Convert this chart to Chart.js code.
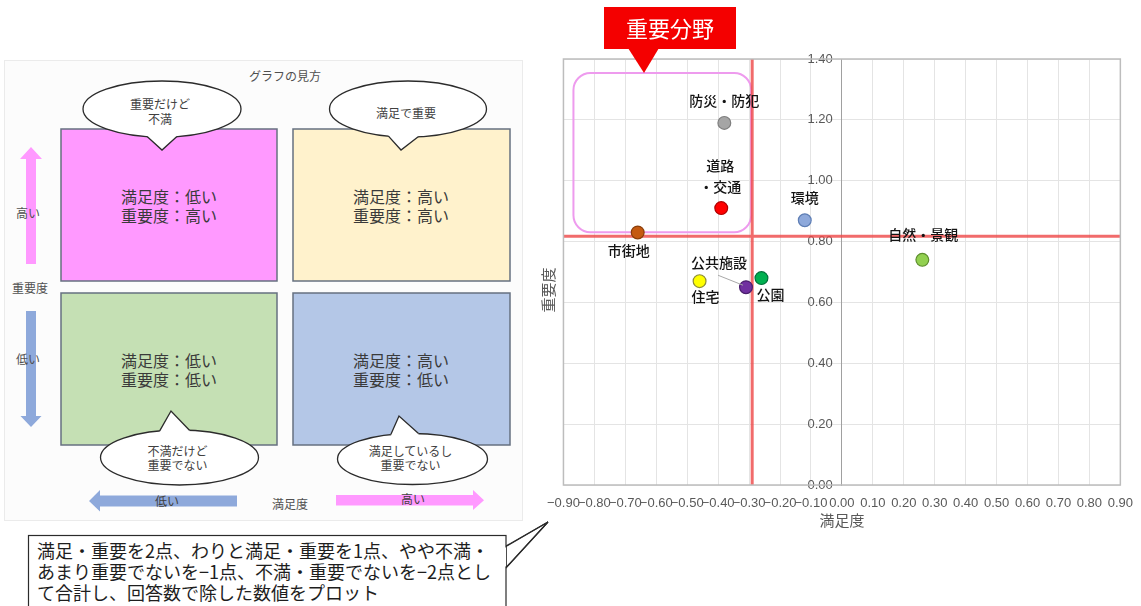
<!DOCTYPE html>
<html lang="ja">
<head>
<meta charset="utf-8">
<script src="https://cdn.jsdelivr.net/npm/chart.js@4.4.1/dist/chart.umd.min.js"></script>
<style>
  body { margin: 0; background: #fff; }
  #wrap { position: relative; width: 1141px; height: 606px; overflow: hidden; font-family: "Noto Sans CJK JP", sans-serif; }
  #guide, #note { position: absolute; left: 0; top: 0; }
  #chartBox { position: absolute; left: 536px; top: 0; width: 608px; height: 545px; }
</style>
</head>
<body>
<div id="wrap">
  <svg id="guide" width="1141" height="606"></svg>
  <div id="chartBox"><canvas id="matrix"></canvas></div>
  <svg id="note" width="1141" height="606"></svg>
</div>
<script>
// 分野と満足度・重要度
const areas = ['防災・防犯', '道路・交通', '環境', '市街地', '自然・景観', '公園', '住宅', '公共施設'];
const satisfaction = [-0.38, -0.39, -0.12, -0.66, 0.26, -0.26, -0.46, -0.31];
const importance = [1.19, 0.91, 0.87, 0.83, 0.74, 0.68, 0.67, 0.65];
const xTicks = [-0.9, -0.8, -0.7, -0.6, -0.5, -0.4, -0.3, -0.2, -0.1, 0, 0.1, 0.2, 0.3, 0.4, 0.5, 0.6, 0.7, 0.8, 0.9];
const yTicks = [0, 0.2, 0.4, 0.6, 0.8, 1.0, 1.2, 1.4];

// 平均（赤線）
const avgX = satisfaction.reduce((a, b) => a + b, 0) / satisfaction.length;
const avgY = importance.reduce((a, b) => a + b, 0) / importance.length;

const fillColors = ['#A5A5A5', '#FF0000', '#8EA9DB', '#C55A11', '#92D050', '#00B050', '#FFFF00', '#7030A0'];
const lineColors = ['#7F7F7F', '#B00000', '#5F7FB5', '#8B3E0A', '#5E8E2E', '#00703A', '#8C8C3A', '#4B1F6E'];

// ラベルの見た目（点からのずれ）
const labelStyle = {
  '防災・防犯': { lines: ['防災・防犯'], dx: 0, dy: -22 },
  '道路・交通': { lines: ['道路', '・交通'], dx: -1, dy: -42 },
  '環境': { lines: ['環境'], dx: 0, dy: -23 },
  '市街地': { lines: ['市街地'], dx: -9, dy: 18 },
  '自然・景観': { lines: ['自然・景観'], dx: 1, dy: -25 },
  '公園': { lines: ['公園'], dx: 9, dy: 17 },
  '住宅': { lines: ['住宅'], dx: 6, dy: 16 },
  '公共施設': { lines: ['公共施設'], dx: -27, dy: -25, leader: [-28, -12, -3, -2] },
};

const JP = '"Noto Sans CJK JP", sans-serif';
const NUM = '"Liberation Sans", Arial, sans-serif';
const fmt = v => (v < 0 ? '\u2212' : '') + Math.abs(v).toFixed(2);
const CX = 536; // キャンバス左端（ページ座標）

// ---------- 左側「グラフの見方」 ----------
const NS = 'http://www.w3.org/2000/svg';
function el(svg, tag, attrs, text) {
  const e = document.createElementNS(NS, tag);
  for (const k in attrs) e.setAttribute(k, attrs[k]);
  if (text !== undefined) e.textContent = text;
  svg.appendChild(e);
  return e;
}
function txt(svg, x, y, s, size, color, anchor) {
  return el(svg, 'text', { x, y, 'font-size': size, fill: color || '#404040', 'text-anchor': anchor || 'middle',
    'dominant-baseline': 'central', 'font-family': JP }, s);
}
function callout(svg, cx, cy, rx, ry, tx, ty, half, lines, ys) {
  const th = Math.atan2((ty - cy) / ry, (tx - cx) / rx);
  const d = half / rx;
  const p = a => [cx + rx * Math.cos(a), cy + ry * Math.sin(a)];
  const q = a => [cx + (rx - 5) * Math.cos(a), cy + (ry - 5) * Math.sin(a)];
  const b1 = p(th - d), b2 = p(th + d), i1 = q(th - d), i2 = q(th + d);
  el(svg, 'ellipse', { cx, cy, rx, ry, fill: '#fff', stroke: '#2b2b2b', 'stroke-width': 1.3 });
  el(svg, 'polygon', { points: [i1, b1, [tx, ty], b2, i2].map(a => a.join(',')).join(' '), fill: '#fff' });
  el(svg, 'polyline', { points: [b1, [tx, ty], b2].map(a => a.join(',')).join(' '), fill: 'none', stroke: '#2b2b2b', 'stroke-width': 1.3 });
  lines.forEach((s, i) => txt(svg, cx - 2, ys[i], s, 12));
}

const g = document.getElementById('guide');
el(g, 'rect', { x: 4.5, y: 60.5, width: 518, height: 460, fill: '#fcfcfc', stroke: '#ebebeb' });
txt(g, 285, 75, 'グラフの見方', 12, '#505050');

const boxStroke = { stroke: '#667080', 'stroke-width': 1.5 };
el(g, 'rect', Object.assign({ x: 61, y: 129, width: 216, height: 152, fill: '#FF99FF' }, boxStroke));
el(g, 'rect', Object.assign({ x: 293, y: 129, width: 217, height: 152, fill: '#FFF2CC' }, boxStroke));
el(g, 'rect', Object.assign({ x: 61, y: 293, width: 216, height: 152, fill: '#C5E0B4' }, boxStroke));
el(g, 'rect', Object.assign({ x: 293, y: 293, width: 217, height: 152, fill: '#B4C7E7' }, boxStroke));
[[169, 205, '満足度：低い', '重要度：高い'], [401, 205, '満足度：高い', '重要度：高い'],
 [169, 369, '満足度：低い', '重要度：低い'], [401, 369, '満足度：高い', '重要度：低い']].forEach(([x, y, a, b]) => {
  txt(g, x, y - 9.5, a, 16, '#3a3a3a');
  txt(g, x, y + 10, b, 16, '#3a3a3a');
});

callout(g, 162, 109, 79, 28, 162, 150, 15, ['重要だけど', '不満'], [103.5, 118]);
callout(g, 408, 109, 78.5, 28, 401, 150, 15, ['満足で重要'], [112]);
callout(g, 179.5, 457.5, 79, 27.5, 171, 411, 15, ['不満だけど', '重要でない'], [450, 464.5]);
callout(g, 412.5, 459, 75, 25.5, 399, 416, 14, ['満足しているし', '重要でない'], [450.5, 464.5]);

// 矢印
el(g, 'polygon', { points: '26,264 36,264 36,159 42,159 31,147 20,159 26,159', fill: '#FF99FF' });
el(g, 'polygon', { points: '26,311 36,311 36,416 41.5,416 31,427 20.5,416 26,416', fill: '#8EA9DB' });
el(g, 'polygon', { points: '237,495.5 237,506.5 100,506.5 100,511.5 89,501 100,490 100,495.5', fill: '#8EA9DB' });
el(g, 'polygon', { points: '336,495 336,505.5 473,505.5 473,510 484,500.2 473,490 473,495', fill: '#FF99FF' });
txt(g, 28, 212, '高い', 12, '#505050');
txt(g, 30, 287, '重要度', 12, '#505050');
txt(g, 28, 358, '低い', 12, '#505050');
txt(g, 167, 500, '低い', 12, '#404040');
txt(g, 290, 503, '満足度', 12, '#505050');
txt(g, 413, 498, '高い', 12, '#404040');

// 下の注記
const n = document.getElementById('note');
el(n, 'polygon', { points: '506,546 548,522 506,568', fill: '#fff', stroke: '#2b2b2b', 'stroke-width': 1.2 });
el(n, 'rect', { x: 28.5, y: 535.5, width: 477.5, height: 90, fill: '#fff', stroke: '#2b2b2b', 'stroke-width': 1.2 });
el(n, 'polygon', { points: '504,547.5 506,547.5 506,566.5 504,566.5', fill: '#fff' });
el(n, 'polyline', { points: '506,546.5 548,522 506,567.5', fill: 'none', stroke: '#2b2b2b', 'stroke-width': 1.2 });
['満足・重要を2点、わりと満足・重要を1点、やや不満・',
 'あまり重要でないを−1点、不満・重要でないを−2点とし',
 'て合計し、回答数で除した数値をプロット'].forEach((s, i) => {
  txt(n, 37, 550 + i * 21, s, 18, '#1e1e1e', 'start');
});

// ---------- 右側の散布図 ----------
const decor = {
  id: 'decor',
  beforeDatasetsDraw(chart) {
    const { ctx, chartArea: a, scales: { x, y } } = chart;
    ctx.save();
    // 重要分野の枠
    const px = x.getPixelForValue(avgX), py = y.getPixelForValue(avgY);
    ctx.strokeStyle = '#EE9BEE';
    ctx.lineWidth = 2;
    ctx.beginPath();
    ctx.roundRect(a.left + 10, a.top + 14, px - 1 - (a.left + 10), py - 4 - (a.top + 14), 17);
    ctx.stroke();
    // 平均線
    ctx.strokeStyle = 'rgba(238, 70, 70, 0.8)';
    ctx.lineWidth = 3;
    ctx.beginPath();
    ctx.moveTo(px, a.top); ctx.lineTo(px, a.bottom);
    ctx.moveTo(a.left, py); ctx.lineTo(a.right, py);
    ctx.stroke();
    // 外枠
    ctx.strokeStyle = '#BDBDBD';
    ctx.lineWidth = 1.5;
    ctx.strokeRect(a.left, a.top, a.right - a.left, a.bottom - a.top);
    ctx.restore();
  },
  afterDatasetsDraw(chart) {
    const { ctx } = chart;
    const pts = chart.getDatasetMeta(0).data;
    ctx.save();
    ctx.font = '500 14px ' + JP;
    ctx.fillStyle = '#141414';
    ctx.textAlign = 'center';
    ctx.textBaseline = 'middle';
    areas.forEach((name, i) => {
      const s = labelStyle[name];
      const p = pts[i];
      if (s.leader) {
        ctx.strokeStyle = '#A8A8A8';
        ctx.lineWidth = 1;
        ctx.beginPath();
        ctx.moveTo(p.x + s.leader[0], p.y + s.leader[1]);
        ctx.lineTo(p.x + s.leader[2], p.y + s.leader[3]);
        ctx.stroke();
      }
      s.lines.forEach((t, k) => ctx.fillText(t, p.x + s.dx, p.y + s.dy + k * 21));
    });
    ctx.restore();
  },
  afterDraw(chart) {
    const { ctx } = chart;
    ctx.save();
    ctx.translate(540 - CX, 0);
    // 重要分野の吹き出し
    ctx.fillStyle = '#F40000';
    ctx.fillRect(64, 7, 132, 42);
    ctx.beginPath();
    ctx.moveTo(88, 48); ctx.lineTo(104, 73); ctx.lineTo(119, 48);
    ctx.closePath();
    ctx.fill();
    ctx.fillStyle = '#fff';
    ctx.font = '22px ' + JP;
    ctx.textAlign = 'center';
    ctx.textBaseline = 'middle';
    ctx.fillText('重要分野', 130, 29);
    // 縦軸タイトル
    ctx.translate(8, 290);
    ctx.rotate(-Math.PI / 2);
    ctx.fillStyle = '#595959';
    ctx.font = '15px ' + JP;
    ctx.fillText('重要度', 0, 0);
    ctx.restore();
  }
};

new Chart(document.getElementById('matrix'), {
  type: 'scatter',
  data: {
    datasets: [{
      label: '分野',
      data: satisfaction.map((v, i) => ({ x: v, y: importance[i] })),
      backgroundColor: fillColors,
      borderColor: lineColors,
      borderWidth: 1.2,
      pointRadius: 6.4,
    }]
  },
  options: {
    responsive: true,
    maintainAspectRatio: false,
    animation: false,
    layout: { padding: { left: 19, right: 17, top: 59, bottom: 0 } },
    plugins: { legend: { display: false }, tooltip: { enabled: false } },
    scales: {
      x: {
        type: 'linear', min: -0.9, max: 0.9,
        afterBuildTicks: s => { s.ticks = xTicks.map(v => ({ value: v })); },
        afterFit: s => { s.height = 60; },
        grid: { color: '#E4E4E4', drawTicks: false },
        border: { display: false },
        ticks: { autoSkip: false, maxRotation: 0, padding: 11, color: '#595959', font: { family: NUM, size: 13 }, callback: v => fmt(v) },
        title: { display: true, text: '満足度', color: '#595959', font: { family: JP, size: 15 }, padding: { top: 0, bottom: 16 } }
      },
      y: {
        type: 'linear', min: 0, max: 1.4,
        position: { x: 0 },
        afterBuildTicks: s => { s.ticks = yTicks.map(v => ({ value: v })); },
        grid: { color: '#E4E4E4', drawTicks: false },
        border: { display: true, color: '#A0A0A0', width: 1 },
        // 軸線から少し離すため末尾に空白
        ticks: { color: '#595959', font: { family: NUM, size: 13 }, callback: v => fmt(v) + '\u2002\u2009' }
      }
    }
  },
  plugins: [decor]
});
</script>
</body>
</html>
